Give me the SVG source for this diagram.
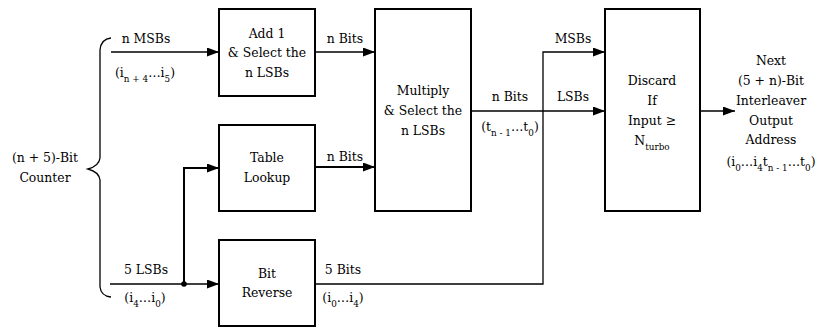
<svg xmlns="http://www.w3.org/2000/svg" width="822" height="327" viewBox="0 0 822 327">
<style>
text{font-family:"DejaVu Serif Condensed","DejaVu Serif",serif;font-size:13.8px;fill:#000;text-anchor:middle}
.sub{font-size:9.8px}
.box{fill:#fff;stroke:#000;stroke-width:2}
.ln{fill:none;stroke:#000;stroke-width:1.3}
.thk{fill:none;stroke:#000;stroke-width:2}
</style>
<defs>
<marker id="ah" markerUnits="userSpaceOnUse" markerWidth="12" markerHeight="9" refX="12" refY="4.5" orient="auto">
<path d="M0,0 L12,4.5 L0,9 z" fill="#000"/>
</marker>
</defs>
<rect width="822" height="327" fill="#fff"/>
<g id="counter">
<text x="45" y="162">(n + 5)-Bit</text>
<text x="45" y="182">Counter</text>
<path class="ln" d="M111,38 Q101,39 100,50 L100,158 Q99,166 88,169 Q99,172 100,180 L100,287 Q101,296 111,297"/>
</g>
<g id="add1">
<rect class="box" x="219" y="9" width="96" height="87"/>
<text x="267" y="38">Add 1</text>
<text x="267" y="57">&amp; Select the</text>
<text x="267" y="76.5">n LSBs</text>
</g>
<g id="table">
<rect class="box" x="219" y="125" width="96" height="86"/>
<text x="267" y="162">Table</text>
<text x="267" y="182">Lookup</text>
</g>
<g id="bitrev">
<rect class="box" x="219" y="240" width="96" height="86"/>
<text x="267" y="278">Bit</text>
<text x="267" y="297">Reverse</text>
</g>
<g id="multiply">
<rect class="box" x="375" y="9" width="96" height="202"/>
<text x="423" y="95">Multiply</text>
<text x="423" y="115">&amp; Select the</text>
<text x="423" y="135">n LSBs</text>
</g>
<g id="discard">
<rect class="box" x="605" y="9" width="95" height="202"/>
<text x="652" y="85">Discard</text>
<text x="652" y="105">If</text>
<text x="652" y="125">Input ≥</text>
<text x="652" y="145">N<tspan class="sub" dy="5">turbo</tspan></text>
</g>
<g id="output">
<text x="771" y="65">Next</text>
<text x="771" y="85">(5 + n)-Bit</text>
<text x="771" y="105">Interleaver</text>
<text x="771" y="125">Output</text>
<text x="771" y="144">Address</text>
<text x="771" y="166">(i<tspan class="sub" dy="5">0</tspan><tspan dy="-5">…i</tspan><tspan class="sub" dy="5">4</tspan><tspan dy="-5">t</tspan><tspan class="sub" dy="5">n - 1</tspan><tspan dy="-5">…t</tspan><tspan class="sub" dy="5">0</tspan><tspan dy="-5">)</tspan></text>
</g>
<g id="connectors">
<line class="ln" x1="111" y1="52" x2="219" y2="52" marker-end="url(#ah)"/>
<line class="ln" x1="110" y1="284" x2="219" y2="284" marker-end="url(#ah)"/>
<circle cx="184" cy="284" r="2.8" fill="#000"/>
<polyline class="thk" points="184,284 184,168 219,168" marker-end="url(#ah)"/>
<line class="ln" x1="315" y1="52" x2="375" y2="52" marker-end="url(#ah)"/>
<line class="thk" x1="315" y1="167" x2="375" y2="167" marker-end="url(#ah)"/>
<line class="ln" x1="471" y1="111" x2="605" y2="111" marker-end="url(#ah)"/>
<polyline class="ln" points="315,284 543,284 543,52 605,52" marker-end="url(#ah)"/>
<line class="ln" x1="700" y1="111" x2="735" y2="111" marker-end="url(#ah)"/>
<text x="146" y="43">n MSBs</text>
<text x="145" y="77">(i<tspan class="sub" dy="5">n + 4</tspan><tspan dy="-5">…i</tspan><tspan class="sub" dy="5">5</tspan><tspan dy="-5">)</tspan></text>
<text x="146" y="274">5 LSBs</text>
<text x="145" y="302">(i<tspan class="sub" dy="5">4</tspan><tspan dy="-5">…i</tspan><tspan class="sub" dy="5">0</tspan><tspan dy="-5">)</tspan></text>
<text x="345" y="43">n Bits</text>
<text x="345" y="161">n Bits</text>
<text x="343" y="274">5 Bits</text>
<text x="343" y="302">(i<tspan class="sub" dy="5">0</tspan><tspan dy="-5">…i</tspan><tspan class="sub" dy="5">4</tspan><tspan dy="-5">)</tspan></text>
<text x="510" y="101">n Bits</text>
<text x="510" y="131">(t<tspan class="sub" dy="5">n - 1</tspan><tspan dy="-5">…t</tspan><tspan class="sub" dy="5">0</tspan><tspan dy="-5">)</tspan></text>
<text x="573" y="43">MSBs</text>
<text x="573" y="101">LSBs</text>
</g>
</svg>
